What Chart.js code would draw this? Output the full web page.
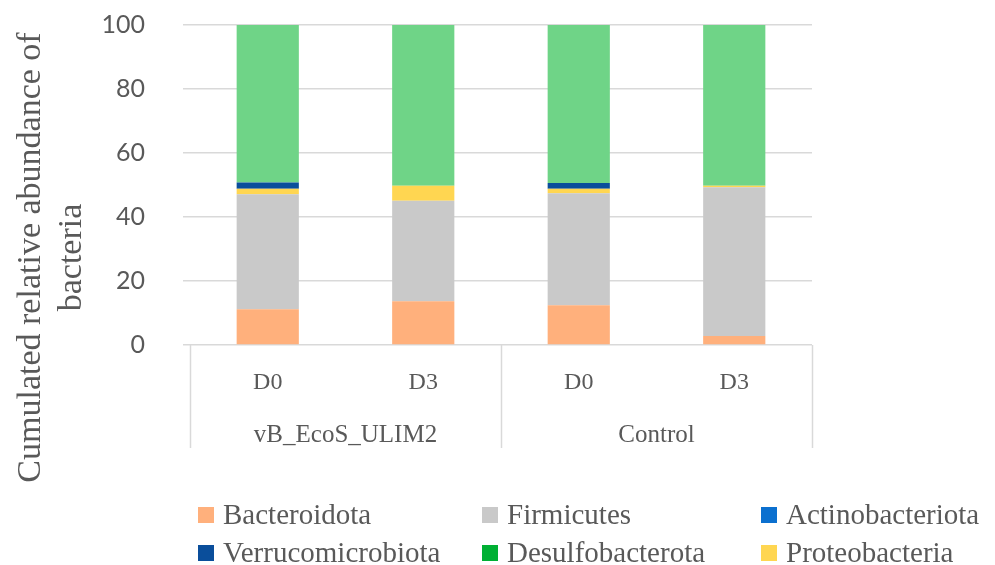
<!DOCTYPE html>
<html>
<head>
<meta charset="utf-8">
<script src="https://cdn.jsdelivr.net/npm/chart.js@4/dist/chart.umd.min.js"></script>
<style>
  html, body { margin: 0; padding: 0; background: #ffffff; }
  #wrap { width: 995px; height: 565px; position: relative; }
</style>
</head>
<body>
<div id="wrap"><canvas id="chart"></canvas></div>
<script>
// Sampling days and treatment groups
const days = ['D0', 'D3', 'D0', 'D3'];
const groups = ['vB_EcoS_ULIM2', 'Control'];
const yTicks = [0, 20, 40, 60, 80, 100];

// Relative abundance (%) per phylum, one value per bar
const bacteroidota      = [11.2, 13.7, 12.4, 2.8];
const firmicutes        = [35.9, 31.4, 35.0, 46.5];
const proteobacteria    = [1.7, 4.7, 1.4, 0.5];
const actinobacteriota  = [0, 0, 0, 0];
const verrucomicrobiota = [2.0, 0, 1.8, 0];
const desulfobacterota  = [0, 0, 0, 0];
const others            = [49.2, 50.2, 49.4, 50.2];

const legendOrder = ['Bacteroidota', 'Firmicutes', 'Actinobacteriota',
                     'Verrucomicrobiota', 'Desulfobacterota', 'Proteobacteria'];

const TEXT = '#595959';
const GRID = '#d9d9d9';
const SERIF = '"Liberation Serif", "DejaVu Serif", serif';

const datasets = [
  { label: 'Bacteroidota',      data: bacteroidota,      backgroundColor: '#ffb07c' },
  { label: 'Firmicutes',        data: firmicutes,        backgroundColor: '#c9c9c9' },
  { label: 'Proteobacteria',    data: proteobacteria,    backgroundColor: '#ffd651' },
  { label: 'Actinobacteriota',  data: actinobacteriota,  backgroundColor: '#0b70cf' },
  { label: 'Verrucomicrobiota', data: verrucomicrobiota, backgroundColor: '#0a4e9b' },
  { label: 'Desulfobacterota',  data: desulfobacterota,  backgroundColor: '#00b034' },
  { label: 'Others',            data: others,            backgroundColor: '#6fd487' }
].map(d => Object.assign(d, { borderWidth: 0, categoryPercentage: 1.0, barPercentage: 0.4 }));

// Group labels, group separators, rotated axis title and the grid legend
const decorations = {
  id: 'decorations',
  afterDraw(chart) {
    const ctx = chart.ctx;
    const x = chart.scales.x;
    const area = chart.chartArea;
    const step = x.getPixelForValue(1) - x.getPixelForValue(0);
    const bottom = x.bottom;

    ctx.save();
    // separators between groups
    ctx.strokeStyle = GRID;
    ctx.lineWidth = 1.5;
    const seps = [0, 2, 4].map(i => x.getPixelForValue(0) - step / 2 + i * step);
    seps.forEach(px => {
      ctx.beginPath();
      ctx.moveTo(Math.round(px) + 0.5, area.bottom);
      ctx.lineTo(Math.round(px) + 0.5, bottom);
      ctx.stroke();
    });

    // group names
    ctx.fillStyle = TEXT;
    ctx.font = '25px ' + SERIF;
    ctx.textAlign = 'center';
    ctx.textBaseline = 'middle';
    groups.forEach((g, i) => {
      const cx = (x.getPixelForValue(i * 2) + x.getPixelForValue(i * 2 + 1)) / 2;
      ctx.fillText(g, cx, bottom - 13);
    });

    // y axis title, two lines
    ctx.save();
    ctx.font = '34px ' + SERIF;
    ctx.translate(0, (area.top + bottom + 42) / 2);
    ctx.rotate(-Math.PI / 2);
    ctx.fillText('Cumulated relative abundance of', 0, 31);
    ctx.fillText('bacteria', 0, 72);
    ctx.restore();

    // legend in a 3-column grid
    const cols = [198, 482, 761];
    const rows = [515, 553];
    ctx.font = '29px ' + SERIF;
    ctx.textAlign = 'left';
    legendOrder.forEach((name, i) => {
      const ds = chart.data.datasets.find(d => d.label === name);
      const cx = cols[i % 3];
      const cy = rows[Math.floor(i / 3)];
      ctx.fillStyle = ds.backgroundColor;
      ctx.fillRect(cx, cy - 8, 16, 16);
      ctx.fillStyle = TEXT;
      ctx.fillText(name, cx + 25, cy + 1);
    });
    ctx.restore();
  }
};

new Chart(document.getElementById('chart'), {
  type: 'bar',
  data: { labels: days, datasets },
  plugins: [decorations],
  options: {
    responsive: true,
    maintainAspectRatio: false,
    animation: false,
    layout: { padding: { top: 25, right: 183, bottom: 117, left: 0 } },
    plugins: {
      legend: { display: false },
      tooltip: { enabled: false }
    },
    scales: {
      x: {
        stacked: true,
        grid: { display: false, drawTicks: false },
        border: { display: false },
        ticks: { color: TEXT, font: { family: SERIF, size: 24 }, padding: 23 },
        afterFit(scale) {
          scale.height = 103;
          scale.paddingLeft = 0;
          scale.paddingRight = 0;
        }
      },
      y: {
        stacked: true,
        min: yTicks[0],
        max: yTicks[yTicks.length - 1],
        afterBuildTicks(scale) { scale.ticks = yTicks.map(v => ({ value: v })); },
        grid: { color: GRID, lineWidth: 1.5, tickLength: 7, drawTicks: true },
        border: { display: false },
        ticks: { color: TEXT, font: { family: 'Lato', size: 25 }, padding: 38 },
        afterFit(scale) {
          scale.width = 190;
          scale.paddingTop = 0;
          scale.paddingBottom = 0;
        }
      }
    }
  }
});
</script>
</body>
</html>
